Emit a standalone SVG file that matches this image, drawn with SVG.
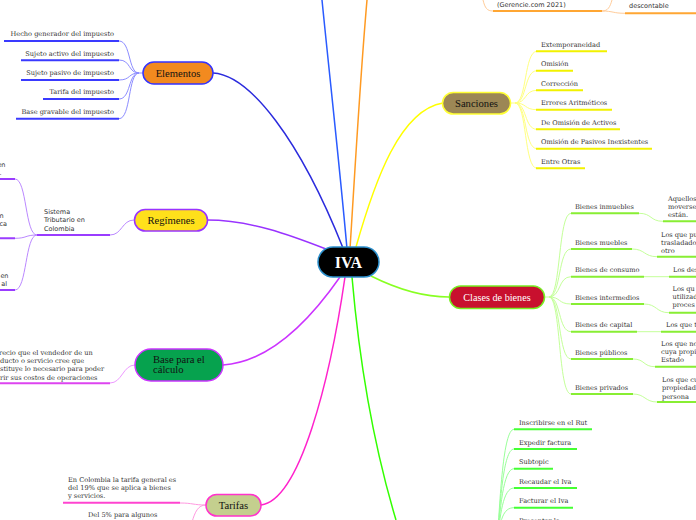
<svg xmlns="http://www.w3.org/2000/svg" width="696" height="520" viewBox="0 0 696 520">
<style>
.lf{font-family:"DejaVu Serif",serif;font-size:6.6px;fill:#333}
.sn{font-family:"DejaVu Sans",sans-serif;font-size:6.5px;fill:#333}
.nl{font-family:"Liberation Serif",serif;font-size:10.6px;fill:#111;text-anchor:middle}
.end{text-anchor:end}
.ul{fill:none;stroke-width:2}
.cn{fill:none;stroke-width:1}
.br{fill:none;stroke-width:1.5}
.nd{stroke-width:1.5}
.blue .ul{stroke:#3a3aff}.blue .cn{stroke:#8c8cff}
.purp .ul{stroke:#9a3cff}.purp .cn{stroke:#bb88ff}
.mag .ul{stroke:#dd44f0}.mag .cn{stroke:#ee99ff}
.pink .ul{stroke:#ff44d0}.pink .cn{stroke:#ff99e0}
.yel .ul{stroke:#f2f200}.yel .cn{stroke:#ffff80}
.lime .ul{stroke:#88ee33}.lime .cn{stroke:#c4ff99}
.grn .ul{stroke:#44ff33}.grn .cn{stroke:#99ff99}
.org .ul{stroke:#ffa633}.org .cn{stroke:#ffcc99}
</style>

<g id="connectors">
  <path class="br" stroke="#2a5bff" d="M347,249 C340,170 330,80 322,0"/>
  <path class="br" stroke="#ff9a22" d="M350,249 C355,170 360,80 367,0"/>
  <path class="br" stroke="#2b2bdd" d="M213,73 C250,75 300,140 343,248"/>
  <path class="br" stroke="#9933ff" d="M207,220 C250,220 290,235 326,249"/>
  <path class="br" stroke="#cc33ff" d="M223,365 C270,362 310,320 340,277"/>
  <path class="br" stroke="#ff22cc" d="M261,505 C300,500 330,380 345,277"/>
  <path class="br" stroke="#33ff00" d="M352,277 C360,370 375,450 396,520"/>
  <path class="br" stroke="#ffff00" d="M356,247 C375,180 400,110 443,103"/>
  <path class="br" stroke="#88ff22" d="M371,276 C395,288 420,297 449,297"/>

  <g class="blue">
    <path class="cn" d="M119,41 C131,41 128,73 139,73 L143,73"/>
    <path class="cn" d="M119,60 C131,60 128,73 139,73"/>
    <path class="cn" d="M119,80 C131,80 128,73 139,73"/>
    <path class="cn" d="M119,99 C131,99 128,73 139,73"/>
    <path class="cn" d="M119,118.7 C131,118.7 128,73 139,73"/>
    <path class="ul" d="M4,41 H119 M21,60.3 H119 M21,80 H119 M43,99 H119 M16,118.7 H119"/>
  </g>

  <g class="purp">
    <path class="cn" d="M110,235 C122,235 122,220 134,220"/>
    <path class="cn" d="M37,235 C25,235 27,179 15,179"/>
    <path class="cn" d="M37,235 C25,235 27,238.3 15,238.3"/>
    <path class="cn" d="M37,235 C25,235 27,290 15,290"/>
    <path class="ul" d="M37,235 H110 M0,179 H15 M0,238.3 H15 M0,290 H15"/>
  </g>

  <g class="mag">
    <path class="cn" d="M110,383 C122,383 123,365 135,365"/>
    <path class="ul" d="M0,383.3 H110"/>
  </g>

  <g class="pink">
    <path class="cn" d="M180,503 C193,503 193,505 206,505"/>
    <path class="cn" d="M206,505 C198,505 195,512 192,522"/>
    <path class="ul" d="M63,502.7 H180"/>
  </g>

  <g class="yel">
    <path class="cn" d="M511,103 L515,103 C527,103 524,51.3 537,51.3"/>
    <path class="cn" d="M515,103 C527,103 524,70.7 537,70.7"/>
    <path class="cn" d="M515,103 C527,103 524,90.3 537,90.3"/>
    <path class="cn" d="M515,103 C527,103 524,109.7 537,109.7"/>
    <path class="cn" d="M515,103 C527,103 524,129.3 537,129.3"/>
    <path class="cn" d="M515,103 C527,103 524,148.7 537,148.7"/>
    <path class="cn" d="M515,103 C527,103 524,168.3 537,168.3"/>
    <path class="ul" d="M536,51.3 H607 M536,70.7 H573 M536,90.3 H583 M536,109.7 H612 M536,129.3 H620 M536,148.7 H652 M536,168.3 H585"/>
  </g>

  <g class="lime">
    <path class="cn" d="M544,297 L549,297 C561,297 558,213.3 571,213.3"/>
    <path class="cn" d="M549,297 C561,297 558,249 571,249"/>
    <path class="cn" d="M549,297 C561,297 558,276.7 571,276.7"/>
    <path class="cn" d="M549,297 C561,297 558,304 571,304"/>
    <path class="cn" d="M549,297 C561,297 558,331.7 571,331.7"/>
    <path class="cn" d="M549,297 C561,297 558,359 571,359"/>
    <path class="cn" d="M549,297 C561,297 558,394 571,394"/>
    <path class="ul" d="M571,213.3 H639 M571,249 H632 M571,276.7 H644 M571,304 H644 M571,331.7 H637 M571,359 H633 M571,394 H633"/>
    <path class="cn" d="M639,213.3 C652,213.3 650,221.3 663,221.3"/>
    <path class="cn" d="M632,249 C645,249 644,256.7 657,256.7"/>
    <path class="cn" d="M644,276.7 H669"/>
    <path class="cn" d="M644,304 C657,304 656,312.7 669,312.7"/>
    <path class="cn" d="M637,331.7 H661"/>
    <path class="cn" d="M633,359 C645,359 643,366.7 655,366.7"/>
    <path class="cn" d="M633,394 C645,394 645,402 657,402"/>
    <path class="ul" d="M663,221.3 H696 M657,256.7 H696 M669,276.7 H696 M669,312.7 H696 M661,331.7 H696 M655,366.7 H696 M657,402 H696"/>
  </g>

  <g class="grn">
    <path class="cn" d="M497,545 C500,500 503,429.3 514,429.3"/>
    <path class="cn" d="M497,545 C500,505 503,449 514,449"/>
    <path class="cn" d="M497,545 C500,510 503,468.7 514,468.7"/>
    <path class="cn" d="M497,545 C500,515 503,488 514,488"/>
    <path class="cn" d="M497,545 C500,520 503,507.7 514,507.7"/>
    <path class="ul" d="M514,429.3 H592 M514,449 H577 M514,468.7 H553 M514,488 H577 M514,507.7 H573"/>
  </g>

  <g class="org">
    <path class="cn" d="M483,0 C485,8 487,11 493,11"/>
    <path class="cn" d="M612,0 C610,7 608,11 602,11"/>
    <path class="cn" d="M602,11 C613,11 613,13.3 625,13.3"/>
    <path class="ul" d="M493,11 H602 M625,13.3 H696"/>
  </g>
</g>

<g id="iva">
  <rect x="318" y="247" width="61" height="30" rx="15" fill="#000" stroke="#2b8fcc" class="nd"/>
  <text x="348.5" y="267.5" font-family="Liberation Serif, serif" font-size="16" font-weight="bold" fill="#fff" text-anchor="middle">IVA</text>
</g>

<g id="elementos">
  <rect x="143" y="62" width="70" height="22" rx="11" fill="#f28a1f" stroke="#3333ff" class="nd"/>
  <text class="nl" x="178" y="76.5">Elementos</text>
  <g class="lf end">
    <text x="114" y="36.3">Hecho generador del impuesto</text>
    <text x="114" y="55.6">Sujeto activo del impuesto</text>
    <text x="114" y="75.3">Sujeto pasivo de impuesto</text>
    <text x="114" y="94.3">Tarifa del impuesto</text>
    <text x="114" y="114">Base gravable del impuesto</text>
  </g>
</g>

<g id="regimenes">
  <rect x="134.5" y="209.5" width="73" height="21.5" rx="10.7" fill="#ffe01b" stroke="#9933ff" class="nd"/>
  <text class="nl" x="171" y="224">Regímenes</text>
  <g class="sn">
    <text x="44" y="213.5">Sistema</text>
    <text x="44" y="222">Tributario en</text>
    <text x="44" y="230.5">Colombia</text>
  </g>
  <g class="sn end">
    <text x="5.5" y="166.5">en</text>
    <text x="1.5" y="174.5">.</text>
    <text x="3.5" y="218">n</text>
    <text x="7" y="226">ca</text>
    <text x="8.5" y="277.5">en</text>
    <text x="7" y="285.5">al</text>
  </g>
</g>

<g id="base">
  <rect x="135" y="349" width="88" height="32" rx="16" fill="#06a24e" stroke="#cc33ff" class="nd"/>
  <text x="153" y="363" font-family="Liberation Serif, serif" font-size="10.6" fill="#111">Base para el</text>
  <text x="153" y="373" font-family="Liberation Serif, serif" font-size="10.6" fill="#111">cálculo</text>
  <g class="lf">
    <text x="-1" y="355">recio que el vendedor de un</text>
    <text x="0" y="363.3">ducto o servicio cree  que</text>
    <text x="0" y="371.3">stituye lo necesario para poder</text>
    <text x="0" y="379.5">rir  sus costos de operaciones</text>
  </g>
</g>

<g id="tarifas">
  <rect x="206" y="494.5" width="55" height="21.5" rx="10.7" fill="#c4cf8e" stroke="#ff33cc" class="nd"/>
  <text class="nl" x="233.5" y="509">Tarifas</text>
  <g class="lf">
    <text x="68" y="481.5">En Colombia la tarifa general es</text>
    <text x="68" y="489.6">del 19% que se aplica a bienes</text>
    <text x="68" y="497.7">y servicios.</text>
    <text x="88" y="517">Del 5% para algunos</text>
  </g>
</g>

<g id="sanciones">
  <rect x="442.5" y="92.5" width="68" height="21.5" rx="10.7" fill="#9c8755" stroke="#ffff33" class="nd"/>
  <text class="nl" x="476.5" y="107">Sanciones</text>
  <g class="lf">
    <text x="541" y="47">Extemporaneidad</text>
    <text x="541" y="66.3">Omisión</text>
    <text x="541" y="86">Corrección</text>
    <text x="541" y="105.3">Errores Aritméticos</text>
    <text x="541" y="125">De Omisión de Activos</text>
    <text x="541" y="144.3">Omisión de Pasivos Inexistentes</text>
    <text x="541" y="164">Entre Otras</text>
  </g>
</g>

<g id="clases">
  <rect x="449.5" y="286" width="95" height="22.5" rx="11.2" fill="#c8102e" stroke="#77ee22" class="nd"/>
  <text class="nl" x="497" y="300.8" style="fill:#fff;font-size:10.2px">Clases de bienes</text>
  <g class="lf">
    <text x="575" y="208.8">Bienes inmuebles</text>
    <text x="575" y="244.5">Bienes muebles</text>
    <text x="575" y="272.2">Bienes de consumo</text>
    <text x="575" y="299.5">Bienes intermedios</text>
    <text x="575" y="327.2">Bienes de capital</text>
    <text x="575" y="354.5">Bienes públicos</text>
    <text x="575" y="389.5">Bienes privados</text>
  </g>
  <g class="lf">
    <text x="668" y="201">Aquellos</text>
    <text x="668" y="209">moverse</text>
    <text x="668" y="217">están.</text>
    <text x="661" y="236.5">Los que pu</text>
    <text x="661" y="244.5">trasladado</text>
    <text x="661" y="252.5">otro</text>
    <text x="673" y="272.2">Los des</text>
    <text x="672.5" y="291">Los qu</text>
    <text x="672.5" y="299">utilizad</text>
    <text x="672.5" y="307.3">proces</text>
    <text x="666" y="327.2">Los que t</text>
    <text x="661" y="346">Los que no</text>
    <text x="661" y="354">cuya propi</text>
    <text x="661" y="362">Estado</text>
    <text x="662" y="382">Los que cu</text>
    <text x="662" y="390.3">propiedad</text>
    <text x="662" y="398.5">persona</text>
  </g>
</g>

<g id="obligaciones">
  <g class="lf">
    <text x="519" y="425">Inscribirse en el Rut</text>
    <text x="519" y="444.5">Expedir factura</text>
    <text x="519" y="464.2">Subtopic</text>
    <text x="519" y="483.5">Recaudar el Iva</text>
    <text x="519" y="503.2">Facturar el Iva</text>
    <text x="519" y="522.5">Presentar la</text>
  </g>
</g>

<g id="fuente">
  <text class="sn" x="497" y="6.5">(Gerencie.com 2021)</text>
  <text class="sn" x="629" y="7.5">descontable</text>
</g>
</svg>
